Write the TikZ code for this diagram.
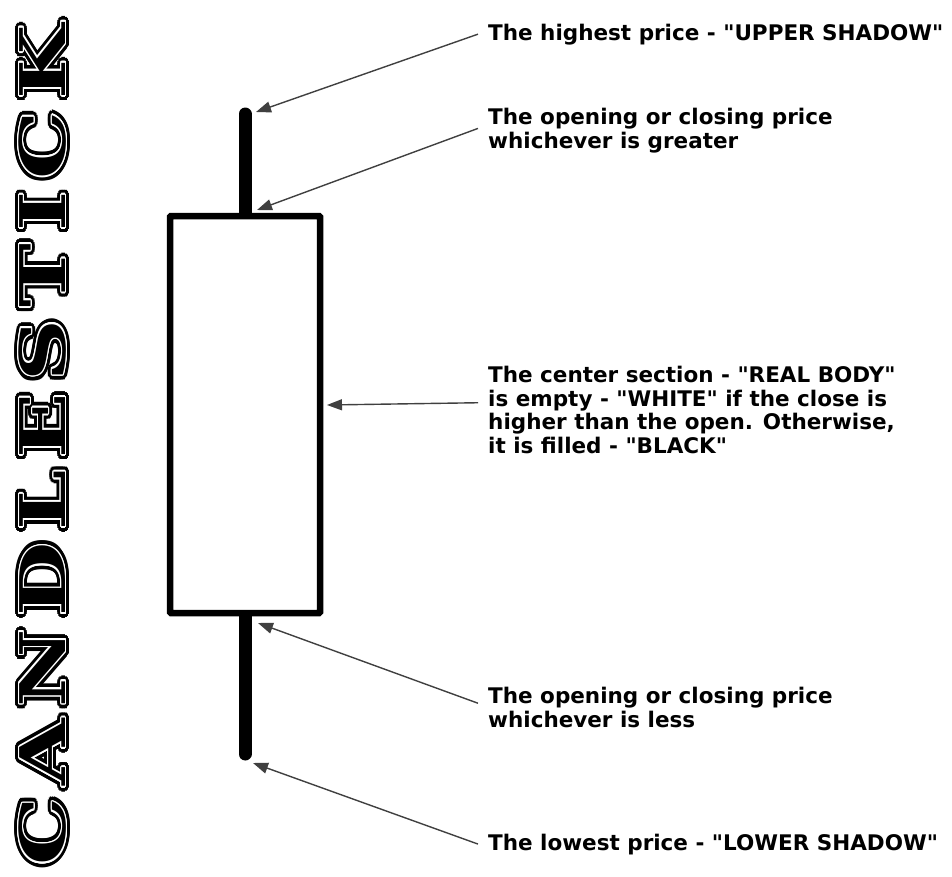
\documentclass[tikz,border=0pt]{standalone}
\usepackage{fontspec}
\setmainfont{DejaVu Sans}
\newfontfamily\titlefont[LetterSpace=14]{DejaVu Serif}
\usepackage{graphicx}
\usepackage{contour}
\usetikzlibrary{arrows.meta}

\newcommand{\qt}{\textquotedbl}

\begin{document}
\begin{tikzpicture}[
  x=1pt, y=-1pt,
  every node/.style={font=\bfseries\fontsize{21.5}{23.5}\selectfont},
  note/.style={align=left, anchor=base west, inner xsep=10pt, inner ysep=0pt},
  body/.style={draw, fill=white, line width=6.5pt, rounded corners=1pt,
               minimum width=150pt, minimum height=397pt},
  arrow/.style={-{Triangle[length=15pt,width=11pt]}, line width=1.4pt, black!75}
]
  \useasboundingbox (0,0) rectangle (952,876);

  % Title
  \node[rotate=90, anchor=base west, inner sep=0pt] (title) at (65.5,866)
    {\titlefont\fontsize{63}{63}\selectfont\scalebox{1.36}[1]{%
      {\contourlength{4pt}\rlap{\contour{black}{CANDLESTICK}}}%
      {\contourlength{1.3pt}\contour{white}{CANDLESTICK}}}};

  % Candle
  \coordinate (high) at (245,114);
  \coordinate (low)  at (245,754);
  \draw[line width=13pt, line cap=round] (high) -- (low);
  \node[body] (body) at (245,414.5) {};

  % Labels (base = last line)
  \node[note] (upper) at (478,40) {The highest price - \qt UPPER SHADOW\qt};
  \node[note] (open)  at (478,148) {The opening or closing price\\whichever is greater};
  \node[note] (real)  at (478,453) {The center section - \qt REAL BODY\qt\\is empty - \qt WHITE\qt{} if the close is\\higher than the open. Otherwise,\\it is filled - \qt BLACK\qt};
  \node[note] (close) at (478,727) {The opening or closing price\\whichever is less};
  \node[note] (lower) at (478,850) {The lowest price - \qt LOWER SHADOW\qt};

  % Arrow tips
  \coordinate (uppertip) at (256,112);
  \coordinate (opentip)  at (257,210);
  \coordinate (realtip)  at (327,405);
  \coordinate (closetip) at (258,623);
  \coordinate (lowertip) at (253,763);

  % Arrows
  \draw[arrow] (upper.west) -- (uppertip);
  \draw[arrow] ([yshift=2pt]open.west) -- (opentip);
  \draw[arrow] ([yshift=7pt]real.west) -- (realtip);
  \draw[arrow] ([yshift=4pt]close.west) -- (closetip);
  \draw[arrow] (lower.west) -- (lowertip);
\end{tikzpicture}
\end{document}
